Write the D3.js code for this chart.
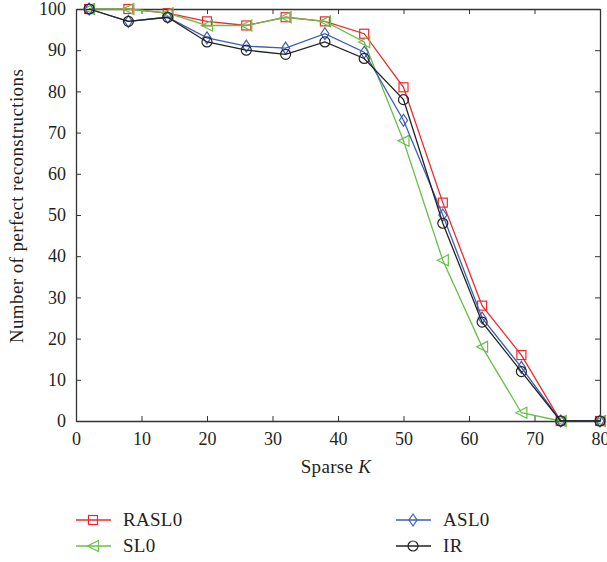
<!DOCTYPE html>
<html>
<head>
<meta charset="utf-8">
<script src="https://cdn.jsdelivr.net/npm/d3@7"></script>
<style>
    body { margin: 0; background: #fff; }
    svg { font-family: "Liberation Serif", "DejaVu Serif", serif; }
</style>
</head>
<body>
<div id="chart"></div>
<script>
// sparsity levels
var sparseK = [2, 8, 14, 20, 26, 32, 38, 44, 50, 56, 62, 68, 74, 80];

// number of perfect reconstructions per method
var rasl0 = [100, 100, 99, 97, 96, 98, 97, 94, 81, 53, 28, 16, 0, 0];
var sl0 = [100, 100, 99, 96, 96, 98, 97, 92, 68, 39, 18, 2, 0, 0];
var asl0 = [100, 97, 98, 93, 91, 90.5, 94, 89.5, 73, 50, 25, 13, 0, 0];
var ir = [100, 97, 98, 92, 90, 89, 92, 88, 78, 48, 24, 12, 0, 0];

var xTicks = [0, 10, 20, 30, 40, 50, 60, 70, 80];
var yTicks = [0, 10, 20, 30, 40, 50, 60, 70, 80, 90, 100];

window.onload = function() {
    draw();
};

function draw() {
    var width = 607;
    var height = 562;
    var box = {left: 76, right: 600, top: 9, bottom: 421};

    var svg = d3.select("#chart").append("svg")
        .attr("width", width).attr("height", height);

    var xscale = d3.scaleLinear().domain([0, 80]).range([box.left, box.right]);
    var yscale = d3.scaleLinear().domain([0, 100]).range([box.bottom, box.top]);

    var series = [
        {name: "RASL0", values: rasl0, color: "#f0282d", marker: "square"},
        {name: "SL0", values: sl0, color: "#6abf4b", marker: "triangle"},
        {name: "ASL0", values: asl0, color: "#3b5fb5", marker: "diamond"},
        {name: "IR", values: ir, color: "#222222", marker: "circle"}
    ];

    // axes (matlab style box, ticks pointing inward)
    var axisColor = "#333";
    var tickLen = 5;

    var bottom = svg.append("g")
        .attr("transform", "translate(0," + box.bottom + ")")
        .call(d3.axisBottom(xscale).tickValues(xTicks).tickSize(-tickLen).tickPadding(11).tickSizeOuter(0));
    var left = svg.append("g")
        .attr("transform", "translate(" + box.left + ",0)")
        .call(d3.axisLeft(yscale).tickValues(yTicks).tickSize(-tickLen).tickPadding(10).tickSizeOuter(0));
    var top = svg.append("g")
        .attr("transform", "translate(0," + box.top + ")")
        .call(d3.axisTop(xscale).tickValues(xTicks).tickSize(-tickLen).tickFormat("").tickSizeOuter(0));
    var right = svg.append("g")
        .attr("transform", "translate(" + box.right + ",0)")
        .call(d3.axisRight(yscale).tickValues(yTicks).tickSize(-tickLen).tickFormat("").tickSizeOuter(0));

    [bottom, left, top, right].forEach(function(g) {
        g.select(".domain").attr("stroke", axisColor).attr("stroke-width", 1.3);
        g.selectAll(".tick line").attr("stroke", axisColor).attr("stroke-width", 1);
        g.selectAll(".tick text")
            .attr("fill", "#231f20")
            .style("font-size", "18px")
            .style("font-family", "'Liberation Serif', serif");
    });

    // lines and markers
    var line = d3.line()
        .x(function(d, i) { return xscale(sparseK[i]); })
        .y(function(d) { return yscale(d); });

    series.forEach(function(s) {
        svg.append("path")
            .datum(s.values)
            .attr("d", line)
            .attr("fill", "none")
            .attr("stroke", s.color)
            .attr("stroke-width", 1.3);

        s.values.forEach(function(v, i) {
            drawMarker(svg, s.marker, xscale(sparseK[i]), yscale(v), s.color);
        });
    });

    // axis titles
    var xlab = svg.append("text")
        .attr("x", 336)
        .attr("y", 473)
        .attr("text-anchor", "middle")
        .attr("fill", "#231f20")
        .style("font-size", "19px")
        .style("letter-spacing", "0.3px");
    xlab.append("tspan").text("Sparse ");
    xlab.append("tspan").style("font-style", "italic").text("K");

    svg.append("text")
        .attr("transform", "translate(23,206) rotate(-90)")
        .attr("text-anchor", "middle")
        .attr("fill", "#231f20")
        .style("font-size", "19px")
        .style("letter-spacing", "0.4px")
        .text("Number of perfect reconstructions");

    // legend
    var legendPos = [
        {x: 76, y: 520},
        {x: 76, y: 546},
        {x: 396, y: 520},
        {x: 396, y: 546}
    ];
    series.forEach(function(s, i) {
        var p = legendPos[i];
        svg.append("line")
            .attr("x1", p.x).attr("x2", p.x + 35)
            .attr("y1", p.y).attr("y2", p.y)
            .attr("stroke", s.color).attr("stroke-width", 1.3);
        drawMarker(svg, s.marker, p.x + 17, p.y, s.color);
        svg.append("text")
            .attr("x", p.x + 47)
            .attr("y", p.y + 6)
            .attr("fill", "#231f20")
            .style("font-size", "19px")
            .style("letter-spacing", "0.3px")
            .text(s.name);
    });
}

function drawMarker(svg, type, x, y, color) {
    var g = svg.append("g").attr("transform", "translate(" + x + "," + y + ")");
    if (type === "square") {
        g.append("rect").attr("x", -4.5).attr("y", -4.5).attr("width", 9).attr("height", 9)
            .attr("fill", "none").attr("stroke", color).attr("stroke-width", 1.2);
    } else if (type === "circle") {
        g.append("circle").attr("r", 5)
            .attr("fill", "none").attr("stroke", color).attr("stroke-width", 1.2);
    } else if (type === "diamond") {
        g.append("path").attr("d", "M0,-6L4,0L0,6L-4,0Z")
            .attr("fill", "none").attr("stroke", color).attr("stroke-width", 1.2);
    } else if (type === "triangle") {
        g.append("path").attr("d", "M-5.5,0L5.5,-5.5L5.5,5.5Z")
            .attr("fill", "none").attr("stroke", color).attr("stroke-width", 1.2);
    }
}
</script>
</body>
</html>
